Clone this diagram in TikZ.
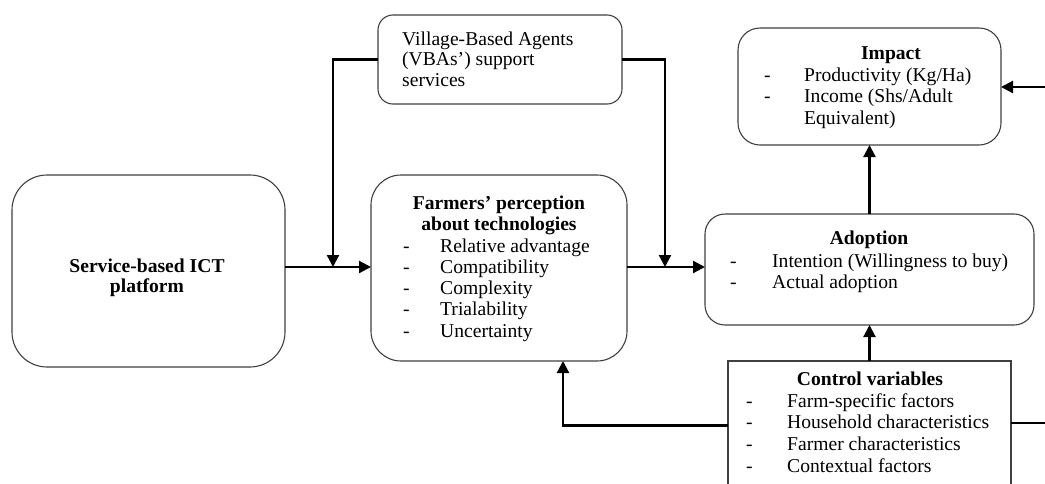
\documentclass[tikz,border=0pt]{standalone}
\usepackage{fontspec}
\setmainfont{Liberation Serif}
\usetikzlibrary{arrows.meta}
\begin{document}
\begin{tikzpicture}[x=1pt,y=-1pt,
  box/.style={draw=black!75, line width=1.1pt, inner sep=0pt, outer sep=0pt},
  conn/.style={line width=2.2pt, -{Triangle[length=12pt,width=12pt]}},
  plainline/.style={line width=2.2pt},
  txt/.style={anchor=base west, inner sep=0pt, font=\fontsize{19.6}{21}\selectfont},
  ttl/.style={anchor=base, inner sep=0pt, font=\fontsize{19.6}{21}\selectfont\bfseries},
]
\clip (0,0) rectangle (1045,483);
\fill[white] (0,0) rectangle (1045,483);

% boxes
\node[box, rounded corners=35pt, minimum width=273pt, minimum height=192pt] (ict) at (148.5,271) {};
\node[box, rounded corners=15pt, minimum width=244pt, minimum height=89pt] (vba) at (500,59.5) {};
\node[box, rounded corners=30pt, minimum width=256pt, minimum height=186pt] (farm) at (499,268) {};
\node[box, rounded corners=22pt, minimum width=263pt, minimum height=117pt] (impact) at (869.5,86.5) {};
\node[box, rounded corners=20pt, minimum width=329pt, minimum height=111pt] (adopt) at (869.5,269.5) {};
\node[box, minimum width=283pt, minimum height=129pt] (ctrl) at (869.5,425.5) {};

% texts: ICT
\node[ttl] (ict1) at (147,272) {Service-based ICT};
\node[ttl] (ict2) at (147,292) {platform};

% VBA
\node[txt] (vba1) at (402,45) {Village-Based Agents};
\node[txt] (vba2) at (402,65) {(VBAs’) support};
\node[txt] (vba3) at (402,86) {services};

% Farmers
\node[ttl] (farmt1) at (499,209) {Farmers’ perception};
\node[ttl] (farmt2) at (499,230) {about technologies};
\foreach \t [count=\i] in {Relative advantage, Compatibility, Complexity, Trialability, Uncertainty} {
  \node[txt] (fd\i) at (403,{252+21.25*(\i-1)}) {-};
  \node[txt] (fl\i) at (440,{252+21.25*(\i-1)}) {\t};
}

% Impact
\node[ttl] (impt) at (891,59) {Impact};
\node[txt] (id1) at (764,81) {-};
\node[txt] (il1) at (804,81) {Productivity (Kg/Ha)};
\node[txt] (id2) at (764,102) {-};
\node[txt] (il2) at (804,102) {Income (Shs/Adult};
\node[txt] (il3) at (804,124) {Equivalent)};

% Adoption
\node[ttl] (adt) at (869,244) {Adoption};
\node[txt] (ad1) at (730,267) {-};
\node[txt] (al1) at (772,267) {Intention (Willingness to buy)};
\node[txt] (ad2) at (730,288) {-};
\node[txt] (al2) at (772,288) {Actual adoption};

% Control
\node[ttl] (ctt) at (870,385) {Control variables};
\foreach \t [count=\i] in {Farm-specific factors, Household characteristics, Farmer characteristics, Contextual factors} {
  \node[txt] (cd\i) at (746,{407+21.7*(\i-1)}) {-};
  \node[txt] (cl\i) at (787,{407+21.7*(\i-1)}) {\t};
}

% connector coordinates
\coordinate (j1) at (333,267);
\coordinate (j2) at (665,267);
\coordinate (fb) at (563,361);
\coordinate (e1) at (1045,87);
\coordinate (e2) at (1045,423);

% connectors
\draw[conn] (ict.east |- j1) -- (farm.west |- j1);
\draw[conn] (vba.west) -| (j1);
\draw[conn] (vba.east) -| (j2);
\draw[conn] (farm.east |- j2) -- (adopt.west |- j2);
\draw[conn] (adopt.north) -- (impact.south);
\draw[conn] (ctrl.north) -- (adopt.south);
\draw[conn] (ctrl.west) -| (fb);
\draw[plainline] (ctrl.east |- e2) -- (e2);
\draw[conn] (e1) -- (impact.east |- e1);
\end{tikzpicture}
\end{document}
